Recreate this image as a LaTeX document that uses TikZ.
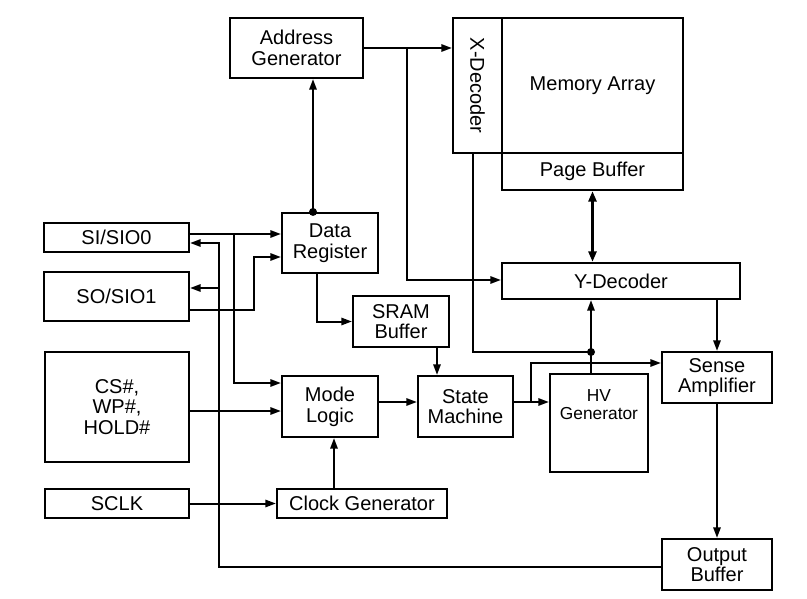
\documentclass[tikz,border=0pt]{standalone}
\usepackage{fontspec}
\setmainfont{Liberation Sans}
\usetikzlibrary{arrows.meta}

\begin{document}
\begin{tikzpicture}[x=0.75pt, y=-0.75pt,
  blk/.style 2 args={draw, line width=1.6pt, inner sep=0pt, align=center,
    minimum width=#1*0.75pt, minimum height=#2*0.75pt,
    font=\fontsize{15}{15.5}\selectfont},
  wire/.style={line width=1.5pt},
  arr/.style={wire, -{Triangle[length=8pt, width=5.5pt]}},
  arrr/.style={wire, line width=2pt, {Triangle[length=8pt, width=6pt]}-{Triangle[length=8pt, width=6pt]}},
  dot/.style={circle, fill, inner sep=0pt, minimum size=6pt}]
  \useasboundingbox (0,0) rectangle (807,599);

  % blocks
  \node[blk={133}{60}] (addr) at (296.5,48) {Address\\Generator};
  \node[blk={49}{135}] (xdec) at (477.5,85.5) {\rotatebox{-90}{X-Decoder}};
  \node[blk={181}{135}] (mem) at (592.5,85.5) {Memory Array};
  \node[blk={181}{37}] (page) at (592.5,171.5) {Page Buffer};
  \node[blk={238}{36}] (ydec) at (621,281) {Y-Decoder};
  \node[blk={96}{60}] (dreg) at (330,243) {Data\\Register};
  \node[blk={96}{51}] (sram) at (401,321.5) {SRAM\\Buffer};
  \node[blk={145}{29}] (si) at (116.5,237.5) {SI/SIO0};
  \node[blk={145}{49}] (so) at (116.5,296.5) {SO/SIO1};
  \node[blk={144}{110}] (cs) at (117,407) {CS\#,\\WP\#,\\HOLD\#};
  \node[blk={144}{29}] (sclk) at (117,503.5) {SCLK};
  \node[blk={96}{61}] (mode) at (330,406.5) {Mode\\Logic};
  \node[blk={170}{29}] (clk) at (362,503.5) {Clock Generator};
  \node[blk={95}{61}] (sm) at (465.5,406.5) {State\\Machine};
  \node[blk={98}{98}, font=\fontsize{13}{13.5}\selectfont] (hv) at (599,423) {HV\\Generator\\[14pt]};
  \node[blk={110}{51}] (sense) at (717,377.5) {Sense\\Amplifier};
  \node[blk={110}{51}] (outb) at (717,564.5) {Output\\Buffer};

  % junctions
  \coordinate (jA) at (407,48);
  \coordinate (jX) at (591,352);
  \coordinate (jS) at (234,234);
  \coordinate (jO) at (219,243);
  \coordinate (jM) at (531,402);

  % address path
  \draw[arr] (dreg.north -| 313,0) -- (addr.south -| 313,0);
  \node[dot] (dD) at (dreg.north -| 313,0) {};
  \draw[arr] (addr.east) -- (xdec.west |- addr.east);
  \draw[arr] (jA) |- (ydec.west |- 0,280);
  \draw[arrr] (page.south) -- (page.south |- ydec.north);
  \draw[wire] (xdec.south -| 473,0) |- (jX);
  \node[dot] (dX) at (jX) {};
  \draw[arr] (hv.north -| jX) -- (ydec.south -| jX);

  % serial inputs and outputs
  \draw[arr] (si.east |- jS) -- (dreg.west |- jS);
  \draw[arr] (jS) |- (mode.west |- 0,383);
  \draw[arr] (outb.west |- 0,567) -| (jO) -- (si.east |- jO);
  \draw[arr] (219,288) -- (so.east |- 0,288);
  \draw[arr] (so.east |- 0,310) -| (254,257) -- (dreg.west |- 0,257);
  \draw[arr] (dreg.south -| 317,0) |- (sram.west);
  \draw[arr] (sram.south -| 437,0) -- (sm.north -| 437,0);
  \draw[arr] (cs.east |- 0,411) -- (mode.west |- 0,411);
  \draw[arr] (sclk) -- (clk);
  \draw[arr] (clk.north -| 334,0) -- (mode.south -| 334,0);
  \draw[arr] (mode.east |- 0,402) -- (sm.west |- 0,402);
  \draw[arr] (sm.east |- jM) -- (hv.west |- jM);
  \draw[arr] (jM) |- (sense.west |- 0,363);
  \draw[arr] (ydec.south -| 717,0) -- (sense.north -| 717,0);
  \draw[arr] (sense.south) -- (outb.north);
\end{tikzpicture}
\end{document}
